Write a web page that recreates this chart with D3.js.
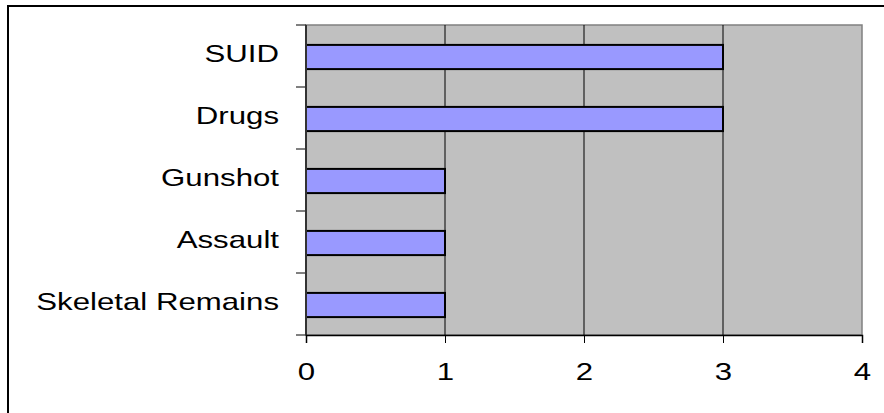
<!DOCTYPE html>
<html>
<head>
<meta charset="utf-8">
<script src="https://cdnjs.cloudflare.com/ajax/libs/d3/7.8.5/d3.min.js"></script>
<style>
  body { margin: 0; background: #fff; }
  svg text { font-family: "Liberation Sans", Arial, sans-serif; fill: #000; }
</style>
</head>
<body>
<div id="chart"></div>
<script>
const categories = ["SUID", "Drugs", "Gunshot", "Assault", "Skeletal Remains"];
const counts = [3, 3, 1, 1, 1];
const xTicks = [0, 1, 2, 3, 4];

const W = 884, H = 413;
const margin = {top: 25, right: 22, bottom: 78, left: 306};
const width = W - margin.left - margin.right;
const height = H - margin.top - margin.bottom;
const fontSize = 24, stretch = 1.3;

const svg = d3.select("#chart").append("svg")
    .attr("width", W)
    .attr("height", H);

// outer chart border (runs off right/bottom edge)
svg.append("rect")
    .attr("x", 8).attr("y", 6)
    .attr("width", 1000).attr("height", 1000)
    .attr("fill", "none")
    .attr("stroke", "#000")
    .attr("stroke-width", 2);

const g = svg.append("g")
    .attr("transform", `translate(${margin.left},${margin.top})`);

const x = d3.scaleLinear().domain([0, 4]).range([0, width]);
const y = d3.scaleBand().domain(categories).range([0, height]).padding(0);

// plot area
g.append("rect")
    .attr("width", width).attr("height", height)
    .attr("fill", "#C0C0C0")
    .attr("stroke", "#808080")
    .attr("stroke-width", 1.5);

// gridlines
g.selectAll(".grid")
  .data(xTicks.slice(1, -1))
  .enter().append("line")
    .attr("x1", d => x(d)).attr("x2", d => x(d))
    .attr("y1", 0).attr("y2", height)
    .attr("stroke", "#000")
    .attr("stroke-width", 1);

// bars
const bh = y.bandwidth() * 0.39;
g.selectAll(".bar")
  .data(categories)
  .enter().append("rect")
    .attr("x", x(0))
    .attr("y", d => y(d) + y.bandwidth() / 2 - bh / 2 + 1)
    .attr("width", (d, i) => x(counts[i]) - x(0))
    .attr("height", bh)
    .attr("fill", "#9999FF")
    .attr("stroke", "#000")
    .attr("stroke-width", 2);

// y axis: tick marks at band edges
const edges = categories.map(d => y(d)).concat([height]);
g.selectAll(".ytick")
  .data(edges)
  .enter().append("line")
    .attr("x1", -10).attr("x2", 0)
    .attr("y1", d => d).attr("y2", d => d)
    .attr("stroke", "#000");
g.append("line")
    .attr("x1", 0).attr("x2", 0)
    .attr("y1", 0).attr("y2", height)
    .attr("stroke", "#333")
    .attr("stroke-width", 2);

g.selectAll(".ylab")
  .data(categories)
  .enter().append("text")
    .attr("transform", d => `translate(-27,${y(d) + y.bandwidth() / 2 - 2}) scale(${stretch},1)`)
    .attr("text-anchor", "end")
    .attr("dy", "0.35em")
    .style("font-size", fontSize + "px")
    .text(d => d);

// x axis
const xAxis = g.append("g")
    .attr("transform", `translate(0,${height})`)
    .call(d3.axisBottom(x).tickValues(xTicks).tickSize(8).tickFormat(d3.format("d")));
xAxis.select(".domain").attr("stroke", "#000").attr("stroke-width", 1.5);
xAxis.selectAll(".tick line").attr("stroke", "#000");
xAxis.selectAll(".tick text")
    .attr("y", 0).attr("dy", 0)
    .attr("transform", `translate(0,45) scale(${stretch},1)`)
    .style("font-size", fontSize + "px")
    .style("font-family", "'Liberation Sans', Arial, sans-serif");
</script>
</body>
</html>
